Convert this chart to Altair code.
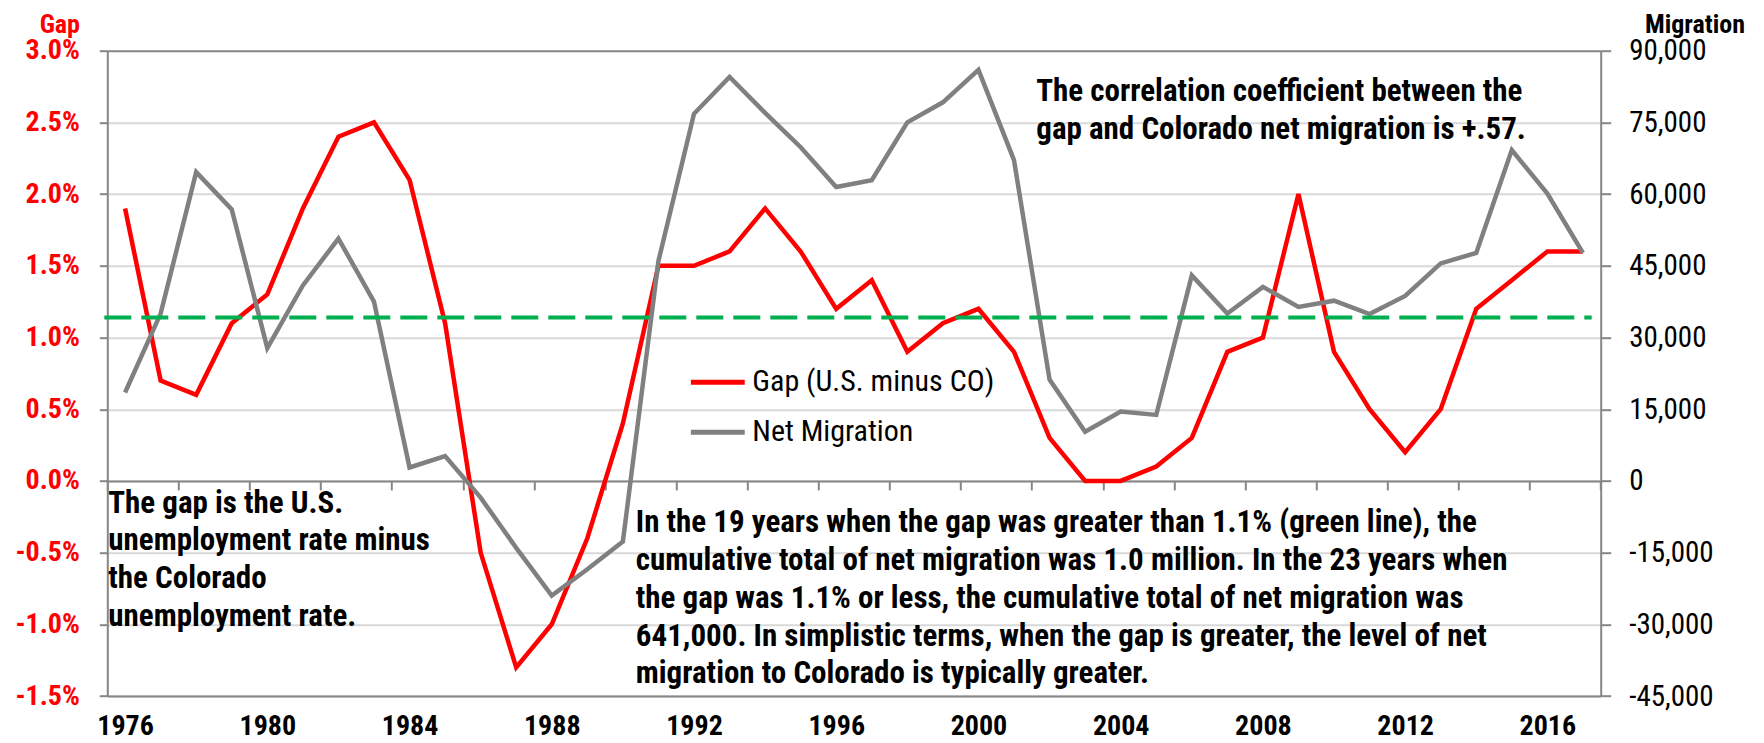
import altair as alt
import pandas as pd

FONT = "Roboto Condensed, Liberation Sans Narrow, DejaVu Sans Condensed, sans-serif"
GRAY_AXIS = "#868686"
GRID = "#d9d9d9"
RED = "#ff0000"
LINE_GRAY = "#808080"
GREEN = "#00b050"

# ---- data ----
years = list(range(1976, 2018))
gap = [1.9, 0.7, 0.6, 1.1, 1.3, 1.9, 2.4, 2.5, 2.1, 1.1,
       -0.5, -1.3, -1.0, -0.4, 0.4, 1.5, 1.5, 1.6, 1.9, 1.6,
       1.2, 1.4, 0.9, 1.1, 1.2, 0.9, 0.3, 0.0, 0.0, 0.1,
       0.3, 0.9, 1.0, 2.0, 0.9, 0.5, 0.2, 0.5, 1.2, 1.4,
       1.6, 1.6]
migration = [18500, 35000, 64600, 56800, 27800, 40900, 50700, 37500, 2800, 5200,
             -3500, -14000, -24000, -18500, -12700, 46000, 76800, 84500, 77000, 69800,
             61500, 62900, 75000, 79200, 86000, 67100, 21200, 10300, 14500, 13800,
             43000, 35000, 40600, 36400, 37700, 34900, 38700, 45500, 47700, 69200,
             60100, 47700]
threshold = [1.14]

series_names = ["Gap (U.S. minus CO)", "Net Migration"]
gap_ticks = [-1.5, -1.0, -0.5, 0.0, 0.5, 1.0, 1.5, 2.0, 2.5, 3.0]
mig_ticks = [-45000, -30000, -15000, 0, 15000, 30000, 45000, 60000, 75000, 90000]
year_labels = list(range(1976, 2017, 4))
zero_ticks = [1975.5 + 2 * k for k in range(22)]

corr_text = ["The correlation coefficient between the",
             "gap and Colorado net migration is +.57."]
gap_text = ["The gap is the U.S.",
            "unemployment rate minus",
            "the Colorado",
            "unemployment rate."]
summary_text = ["In the 19 years when the gap was greater than 1.1% (green line), the",
                "cumulative total of net migration was 1.0 million. In the 23 years when",
                "the gap was 1.1% or less, the cumulative total of net migration was",
                "641,000. In simplistic terms, when the gap is greater, the level of net",
                "migration to Colorado is typically greater."]

# ---- layout ----
W, H = 1493.4, 645.3
TXT = 31      # annotation size
TICK = 28

gap_df = pd.DataFrame({"year": years, "value": gap, "series": series_names[0]})
mig_df = pd.DataFrame({"year": years, "value": migration, "series": series_names[1]})
thr_df = pd.DataFrame({"threshold": threshold})
one = pd.DataFrame({"k": [0]})

xscale = alt.Scale(domain=[1975.5, 2017.5], nice=False, zero=False)
gap_scale = alt.Scale(domain=[-1.5, 3.0], nice=False, zero=False)
mig_scale = alt.Scale(domain=[-45000, 90000], nice=False, zero=False)
color = alt.Color(
    "series:N",
    scale=alt.Scale(domain=series_names, range=[RED, LINE_GRAY]),
    legend=alt.Legend(
        orient="none", legendX=581, legendY=302, title=None,
        symbolType="stroke", symbolStrokeWidth=5, symbolSize=2900,
        labelFont=FONT, labelFontSize=30, labelColor="black", labelLimit=0,
        labelOffset=5, padding=0, rowPadding=5, symbolOffset=0,
    ),
)

red_line = alt.Chart(gap_df).mark_line(strokeWidth=4.5, strokeJoin="miter").encode(
    x=alt.X("year:Q", scale=xscale, axis=alt.Axis(
        orient="bottom", values=year_labels, format="d", title=None, grid=False,
        labelFont=FONT, labelFontSize=TICK, labelFontWeight="bold", labelColor="black",
        ticks=False, tickSize=0, labelPadding=16, labelFlush=False, labelOverlap=False,
        domainColor=GRAY_AXIS, domainWidth=2)),
    y=alt.Y("value:Q", scale=gap_scale, axis=alt.Axis(
        orient="left", values=gap_ticks, title=None,
        labelExpr="(datum.value < 0 ? '-' : '') + format(abs(datum.value), '.1f') + '%'",
        labelFont=FONT, labelFontSize=TICK, labelFontWeight="bold", labelColor=RED,
        tickSize=8, tickColor=GRAY_AXIS, tickWidth=2, labelPadding=20,
        domainColor=GRAY_AXIS, domainWidth=2,
        grid=True, gridWidth=2,
        gridColor={"condition": {"test": "datum.value >= 3", "value": GRAY_AXIS}, "value": GRID})),
    color=color,
)

gray_line = alt.Chart(mig_df).mark_line(strokeWidth=4.5, strokeJoin="miter").encode(
    x=alt.X("year:Q", scale=xscale, axis=alt.Axis(
        orient="bottom", values=zero_ticks, labels=False, title=None, grid=False,
        ticks=True, tickSize=9, tickColor=GRAY_AXIS, tickWidth=2,
        domainColor=GRAY_AXIS, domainWidth=2, offset=-H / 3)),
    y=alt.Y("value:Q", scale=mig_scale, axis=alt.Axis(
        orient="right", values=mig_ticks, title=None, grid=False,
        labelExpr="(datum.value < 0 ? '-' : '') + format(abs(datum.value), ',')",
        labelFont=FONT, labelFontSize=29, labelColor="black",
        tickSize=10, tickColor=GRAY_AXIS, tickWidth=2, labelPadding=18,
        domainColor=GRAY_AXIS, domainWidth=2)),
    color=color,
)

green_rule = alt.Chart(thr_df).mark_rule(color=GREEN, strokeWidth=4, strokeDash=[27, 10]).encode(
    y=alt.Y("threshold:Q", scale=gap_scale, axis=None),
    x=alt.value(-3),
    x2=alt.value(W - 9),
)


def text_block(lines, x, y, weight="bold", size=TXT, align="left", col="black"):
    return alt.Chart(one).mark_text(
        align=align, baseline="alphabetic", font=FONT, fontSize=size,
        fontWeight=weight, lineHeight=37.8, color=col,
    ).encode(x=alt.value(x), y=alt.value(y), text=alt.value(lines))


corr = text_block(corr_text, 929, 50.5)
gapnote = text_block(gap_text, 1, 462)
summary = text_block(summary_text, 528.5, 481.5)
gap_title = text_block("Gap", -27.3, -18, size=26, align="right", col=RED)
mig_title = text_block("Migration", 1587.7, -18, size=26, align="center")

chart = alt.layer(
    red_line, gray_line, green_rule, corr, gapnote, summary, gap_title, mig_title
).resolve_scale(
    y="independent"
).resolve_axis(
    x="independent"
).properties(
    width=W, height=H,
    autosize=alt.AutoSizeParams(type="none"),
    padding={"left": 99.3, "top": 42.7, "right": 155.3, "bottom": 44},
    background="white",
).configure_view(strokeWidth=0)

chart.save("out.html", embed_options={"renderer": "svg", "actions": False})
